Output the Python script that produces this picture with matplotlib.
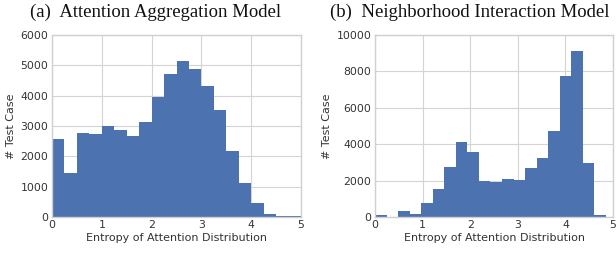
import numpy as np
import matplotlib
matplotlib.use('Agg')
import matplotlib.pyplot as plt
import seaborn as sns

# histogram counts (20 bins each)
agg_counts = [2570, 1450, 2770, 2740, 3000, 2870, 2670, 3130, 3960, 4710,
              5140, 4880, 4320, 3530, 2180, 1120, 460, 100, 30, 30]
agg_max = 5.0

nbr_counts = [90, 20, 330, 160, 790, 1540, 2770, 4120, 3570, 1980,
              1920, 2090, 2030, 2690, 3240, 4730, 7750, 9120, 2970, 90]
nbr_max = np.log(128)

titles = ['(a)  Attention Aggregation Model', '(b)  Neighborhood Interaction Model']
xlabel = 'Entropy of Attention Distribution'
ylabel = '# Test Case'

sns.set_style('whitegrid')
plt.rcParams['font.family'] = ['DejaVu Sans']

fig = plt.figure(figsize=(6.16, 2.54), dpi=100)
ax1 = fig.add_axes([52/616, 37/254, 249/616, 182/254])
ax2 = fig.add_axes([375/616, 37/254, 238/616, 182/254])

blue = '#4C72B0'
txt = '#333333'

for ax, counts, top, ylim, yticks in [
        (ax1, agg_counts, agg_max, 6000, range(0, 6001, 1000)),
        (ax2, nbr_counts, nbr_max, 10000, range(0, 10001, 2000))]:
    edges = np.linspace(0, top, len(counts) + 1)
    ax.bar(edges[:-1], counts, width=np.diff(edges), align='edge',
           color=blue, linewidth=0, zorder=2)
    ax.set_xlim(0, 5)
    ax.set_ylim(0, ylim)
    ax.set_xticks(range(0, 6))
    ax.set_yticks(list(yticks))
    ax.tick_params(labelsize=7.8, colors=txt, pad=2.5, length=0)
    ax.set_xlabel(xlabel, fontsize=8, color=txt, labelpad=2)
    ax.set_ylabel(ylabel, fontsize=8, color=txt, labelpad=3)
    ax.grid(True, color='#d4d4d4', linewidth=0.8, zorder=0)
    for s in ax.spines.values():
        s.set_visible(True)
        s.set_color('#d0d0d0')
        s.set_linewidth(1.0)

fig.text(156/616, 1 - 12/254, titles[0], ha='center', va='center',
         fontsize=13.5, family='Liberation Serif', color='#111111')
fig.text(470/616, 1 - 12/254, titles[1], ha='center', va='center',
         fontsize=13.5, family='Liberation Serif', color='#111111')

fig.savefig('out.png', dpi=100)
